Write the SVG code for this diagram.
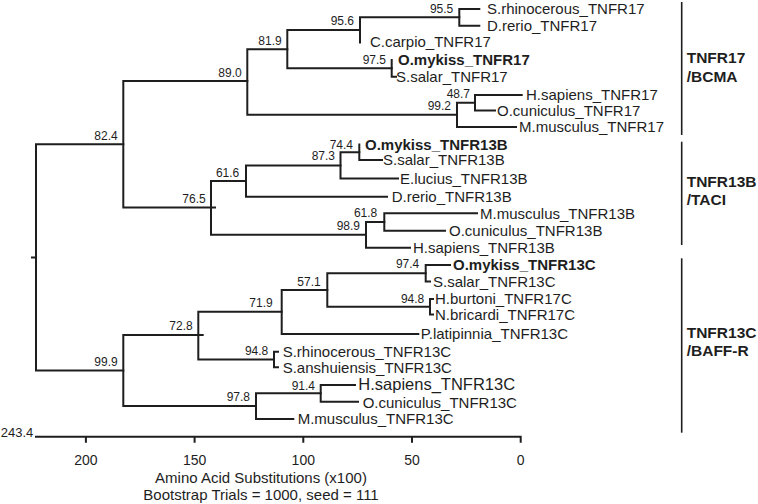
<svg xmlns="http://www.w3.org/2000/svg" width="758" height="504" viewBox="0 0 758 504">
<style>
.br{fill:none;stroke:#1e1e1e;stroke-width:2;stroke-linecap:square}
.bar{fill:none;stroke:#1e1e1e;stroke-width:1.6}
text{font-family:"Liberation Sans",Arial,sans-serif;fill:#1e1e1e}
.lf{font-size:15px}
.bd{font-size:15px;font-weight:bold}
.bs{font-size:12px;text-anchor:end}
.cl{font-size:15.5px;font-weight:bold}
.ax{font-size:14px;text-anchor:middle}
</style>
<rect width="758" height="504" fill="#fff"/>
<g id="connectors">
<path class="br" d="M32 257.4H36M36 144.3V370.5M36 144.3H123.3M36 370.5H123.3"/>
<path class="br" d="M123.3 81V207.5M123.3 81H247.3M123.3 207.5H215"/>
<path class="br" d="M247.3 49.2V114.8M247.3 49.2H287.3M247.3 114.8H457"/>
<path class="br" d="M287.3 30V68.3M287.3 30H360M287.3 68.3H391.7"/>
<path class="br" d="M360 17.3V42.5M360 17.3H459.3"/>
<path class="br" d="M459.3 9V25.7M459.3 9H479.3M459.3 25.7H479.3"/>
<path class="br" d="M391.7 60V76.7H396"/>
<path class="br" d="M457 102.7V127M457 102.7H475M457 127H516"/>
<path class="br" d="M475 95V110.5M475 95H521.7M475 110.5H495"/>
<path class="br" d="M211 181V234.8M211 181H246M211 234.8H366"/>
<path class="br" d="M246 165.4V196.7M246 165.4H340.5M246 196.7H387"/>
<path class="br" d="M340.5 152.3V178.5M340.5 152.3H359.3M340.5 178.5H398"/>
<path class="br" d="M359.3 144.5V160H382"/>
<path class="br" d="M366 222V247.7M366 222H384.3M366 247.7H410"/>
<path class="br" d="M384.3 213.3V230.7M384.3 213.3H477M384.3 230.7H445"/>
<path class="br" d="M123.3 335V406M123.3 335H202.7M123.3 406H256"/>
<path class="br" d="M198.3 311.7V359.5M198.3 311.7H281.7M198.3 359.5H274"/>
<path class="br" d="M281.7 290V334M281.7 290H327.3M281.7 334H418.3"/>
<path class="br" d="M327.3 273.3V306.7M327.3 273.3H425.7M327.3 306.7H430"/>
<path class="br" d="M425.7 265V281.5M425.7 265H450M425.7 281.5H430"/>
<path class="br" d="M430 299V314.5M430 299H433M430 314.5H433"/>
<path class="br" d="M274 351.7V367.3M274 351.7H278M274 367.3H278"/>
<path class="br" d="M256 393.3V419M256 393.3H320.7M256 419H293.3"/>
<path class="br" d="M320.7 385V401.7M320.7 385H355M320.7 401.7H358"/>
</g>
<g id="n95_5"><text class="bs" x="453.3" y="12.5">95.5</text></g>
<g id="n95_6"><text class="bs" x="354" y="25">95.6</text></g>
<g id="n81_9"><text class="bs" x="281.7" y="45">81.9</text></g>
<g id="n97_5"><text class="bs" x="386" y="64">97.5</text></g>
<g id="n48_7"><text class="bs" x="470" y="97.5">48.7</text></g>
<g id="n99_2"><text class="bs" x="451" y="110">99.2</text></g>
<g id="n89_0"><text class="bs" x="241.7" y="76.7">89.0</text></g>
<g id="n82_4"><text class="bs" x="117.7" y="140">82.4</text></g>
<g id="n74_4"><text class="bs" x="353" y="149">74.4</text></g>
<g id="n87_3"><text class="bs" x="335" y="160">87.3</text></g>
<g id="n61_6"><text class="bs" x="239.3" y="176.7">61.6</text></g>
<g id="n76_5"><text class="bs" x="205.7" y="202.7">76.5</text></g>
<g id="n61_8"><text class="bs" x="377.3" y="217">61.8</text></g>
<g id="n98_9"><text class="bs" x="360" y="230">98.9</text></g>
<g id="n97_4"><text class="bs" x="419.3" y="268">97.4</text></g>
<g id="n57_1"><text class="bs" x="320.7" y="286">57.1</text></g>
<g id="n71_9"><text class="bs" x="272.7" y="306.7">71.9</text></g>
<g id="n94_8a"><text class="bs" x="424.3" y="302.7">94.8</text></g>
<g id="n72_8"><text class="bs" x="192.7" y="330">72.8</text></g>
<g id="n94_8b"><text class="bs" x="268.3" y="355">94.8</text></g>
<g id="n99_9"><text class="bs" x="117.7" y="365.7">99.9</text></g>
<g id="n97_8"><text class="bs" x="250" y="401">97.8</text></g>
<g id="n91_4"><text class="bs" x="315" y="390">91.4</text></g>
<g id="leaf_srhin17"><text class="lf" x="487" y="14.3">S.rhinocerous_TNFR17</text></g>
<g id="leaf_drer17"><text class="lf" x="487" y="31">D.rerio_TNFR17</text></g>
<g id="leaf_ccar17"><text class="lf" x="370" y="47.3">C.carpio_TNFR17</text></g>
<g id="leaf_omyk17"><text class="bd" x="398" y="65.3">O.mykiss_TNFR17</text></g>
<g id="leaf_ssal17"><text class="lf" x="396" y="82">S.salar_TNFR17</text></g>
<g id="leaf_hsap17"><text class="lf" x="526" y="100.3">H.sapiens_TNFR17</text></g>
<g id="leaf_ocun17"><text class="lf" x="497" y="115.8">O.cuniculus_TNFR17</text></g>
<g id="leaf_mmus17"><text class="lf" x="519" y="132.3">M.musculus_TNFR17</text></g>
<g id="leaf_omyk13b"><text class="bd" x="365" y="149.8">O.mykiss_TNFR13B</text></g>
<g id="leaf_ssal13b"><text class="lf" x="383" y="165.3">S.salar_TNFR13B</text></g>
<g id="leaf_eluc13b"><text class="lf" x="400" y="183.8">E.lucius_TNFR13B</text></g>
<g id="leaf_drer13b"><text class="lf" x="391.7" y="202">D.rerio_TNFR13B</text></g>
<g id="leaf_mmus13b"><text class="lf" x="480" y="218.6">M.musculus_TNFR13B</text></g>
<g id="leaf_ocun13b"><text class="lf" x="449" y="236">O.cuniculus_TNFR13B</text></g>
<g id="leaf_hsap13b"><text class="lf" x="413" y="253">H.sapiens_TNFR13B</text></g>
<g id="leaf_omyk13c"><text class="bd" x="453" y="270.3">O.mykiss_TNFR13C</text></g>
<g id="leaf_ssal13c"><text class="lf" x="433" y="286.8">S.salar_TNFR13C</text></g>
<g id="leaf_hbur17c"><text class="lf" x="435" y="304.3">H.burtoni_TNFR17C</text></g>
<g id="leaf_nbri17c"><text class="lf" x="435" y="319.8">N.bricardi_TNFR17C</text></g>
<g id="leaf_plat13c"><text class="lf" x="420.7" y="339.3">P.latipinnia_TNFR13C</text></g>
<g id="leaf_srhin13c"><text class="lf" x="282.7" y="357">S.rhinocerous_TNFR13C</text></g>
<g id="leaf_sans13c"><text class="lf" x="282.7" y="372.6">S.anshuiensis_TNFR13C</text></g>
<g id="leaf_hsap13c"><text class="lf" style="font-size:16.5px" x="358.3" y="390">H.sapiens_TNFR13C</text></g>
<g id="leaf_ocun13c"><text class="lf" x="362.7" y="407.5">O.cuniculus_TNFR13C</text></g>
<g id="leaf_mmus13c"><text class="lf" x="297.7" y="424.3">M.musculus_TNFR13C</text></g>
<g id="clade_tnfr17">
<path class="bar" d="M681.7 2V135"/>
<text class="cl" x="686.7" y="62.7">TNFR17</text>
<text class="cl" x="686.7" y="81.7">/BCMA</text>
</g>
<g id="clade_tnfr13b">
<path class="bar" d="M681.7 141.7V245"/>
<text class="cl" x="686.7" y="186.7">TNFR13B</text>
<text class="cl" x="686.7" y="205">/TACI</text>
</g>
<g id="clade_tnfr13c">
<path class="bar" d="M681.7 258.3V432.7"/>
<text class="cl" x="686.7" y="338.3">TNFR13C</text>
<text class="cl" x="686.7" y="356">/BAFF-R</text>
</g>
<g id="axis">
<path class="br" d="M36 436.7H520.7V441.7M85.9 436.7V441.7M194.6 436.7V441.7M303.3 436.7V441.7M412 436.7V441.7"/>
<text x="33.3" y="437" style="font-size:13px;text-anchor:end">243.4</text>
<text class="ax" x="85.9" y="465">200</text>
<text class="ax" x="194.6" y="465">150</text>
<text class="ax" x="303.3" y="465">100</text>
<text class="ax" x="412" y="465">50</text>
<text class="ax" x="520.7" y="465">0</text>
<text x="261" y="482.5" style="font-size:15px;text-anchor:middle">Amino Acid Substitutions (x100)</text>
<text x="261" y="499.5" style="font-size:15px;text-anchor:middle">Bootstrap Trials = 1000, seed = 111</text>
</g>
</svg>
